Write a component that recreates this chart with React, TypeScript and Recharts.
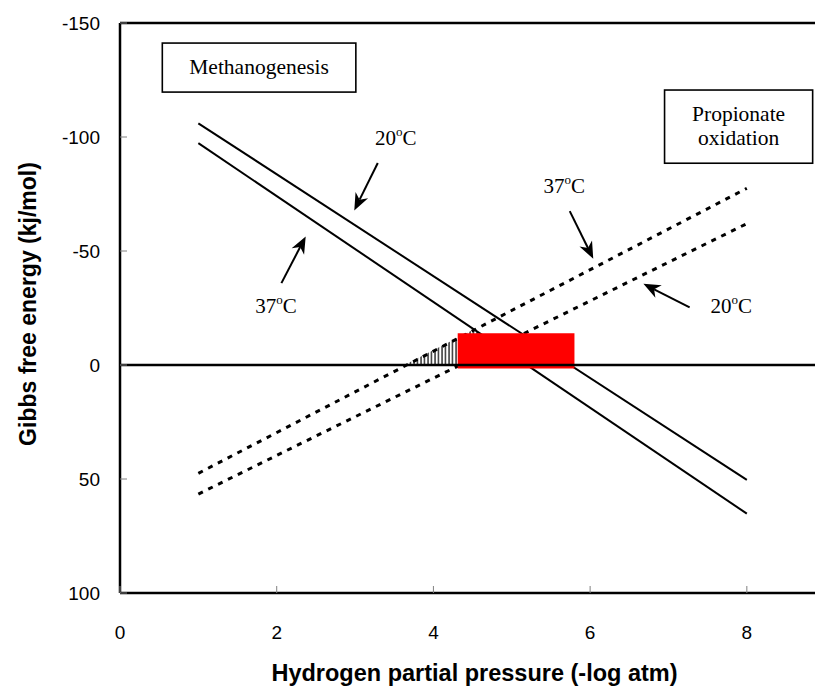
import React from 'react';
import {
  ComposedChart,
  Line,
  Area,
  XAxis,
  YAxis,
  ReferenceLine,
  ReferenceArea,
  ReferenceDot,
} from 'recharts';

// x positions (-log atm) where the drawn lines start and end
const lineX = [1, 8];
// Gibbs free energy (kJ/mol) at those x positions
const meth20 = [-106, 50.4];
const meth37 = [-97.3, 65.2];
const prop37 = [47.5, -77.5];
const prop20 = [56.6, -62];

// thermodynamic window (hatched)
const windowX = [3.63, 4.52, 5.19];
const windowY = [0, -15.7, 0];

// red box
const boxX = [4.31, 5.8];
const boxY = [-13.9, 1.5];

const xTicks = [0, 2, 4, 6, 8];
const yTicks = [-150, -100, -50, 0, 50, 100];

// annotation labels: [x, y, number]
const tempLabels: [number, number, string][] = [
  [3.52, -99.7, '20'],
  [1.99, -25.7, '37'],
  [5.67, -78.5, '37'],
  [7.8, -25.7, '20'],
];

// arrows: [x from, y from, x tip, y tip]
const arrows: [number, number, number, number][] = [
  [3.29, -88.6, 2.99, -67.8],
  [2.06, -35.9, 2.37, -56.4],
  [5.74, -67.5, 6.04, -46.6],
  [7.27, -25.3, 6.68, -35.6],
];

const toPoints = (xs: number[], ys: number[]) => xs.map((x, i) => ({ x, y: ys[i] }));

const SANS = '"Liberation Sans", Arial, sans-serif';
const SERIF = '"Liberation Serif", "Times New Roman", serif';

const XTick = ({ x, y, payload }: any) => (
  <g>
    <line x1={x} y1={y} x2={x} y2={y - 7} stroke="#808080" strokeWidth={1} />
    <text x={x} y={y + 46} textAnchor="middle" fontSize={19} fontFamily={SANS} fill="#000">
      {payload.value}
    </text>
  </g>
);

const YTick = ({ x, y, payload }: any) => (
  <g>
    <line x1={x} y1={y} x2={x + 7} y2={y} stroke="#808080" strokeWidth={1} />
    <text x={x - 20} y={y} dy="0.35em" textAnchor="end" fontSize={19} fontFamily={SANS} fill="#000">
      {payload.value}
    </text>
  </g>
);

const XTitle = ({ viewBox }: any) => (
  <text
    x={viewBox.x + viewBox.width / 2 + 7}
    y={viewBox.y + viewBox.height - 7}
    textAnchor="middle"
    fontSize={23.5}
    fontWeight="bold"
    fontFamily={SANS}
    fill="#000"
  >
    Hydrogen partial pressure (-log atm)
  </text>
);

const YTitle = ({ viewBox }: any) => {
  const cx = viewBox.x + 28;
  const cy = viewBox.y + viewBox.height / 2 - 4;
  return (
    <text
      x={cx}
      y={cy}
      dy="0.35em"
      transform={`rotate(-90 ${cx} ${cy})`}
      textAnchor="middle"
      fontSize={23}
      fontWeight="bold"
      fontFamily={SANS}
      fill="#000"
    >
      Gibbs free energy (kj/mol)
    </text>
  );
};

const makeBox = (lines: string[]) => (props: any) => {
  const { x, y, width, height } = props;
  const cx = x + width / 2;
  const cy = y + height / 2;
  const lh = 24;
  const start = cy - ((lines.length - 1) * lh) / 2;
  return (
    <g>
      <rect x={x} y={y} width={width} height={height} fill="#fff" stroke="#000" strokeWidth={1.6} />
      {lines.map((t, i) => (
        <text
          key={t}
          x={cx}
          y={start + i * lh}
          dy="0.3em"
          textAnchor="middle"
          fontSize={21.5}
          fontFamily={SERIF}
          fill="#000"
        >
          {t}
        </text>
      ))}
    </g>
  );
};

const makeTemp = (num: string) => (props: any) => {
  const { cx, cy } = props;
  return (
    <text x={cx} y={cy} dy={7} textAnchor="middle" fontSize={21} fontFamily={SERIF} fill="#000">
      {num}
      <tspan dy={-9} fontSize={13}>o</tspan>
      <tspan dy={9}>C</tspan>
    </text>
  );
};

const ArrowShape = (props: any) => {
  const { x1, y1, x2, y2 } = props;
  const dx = x2 - x1;
  const dy = y2 - y1;
  const len = Math.sqrt(dx * dx + dy * dy) || 1;
  const ux = dx / len;
  const uy = dy / len;
  const hl = 17;
  const hw = 7;
  const bx = x2 - ux * hl;
  const by = y2 - uy * hl;
  const mx = x2 - ux * (hl - 5);
  const my = y2 - uy * (hl - 5);
  return (
    <g>
      <line x1={x1} y1={y1} x2={mx} y2={my} stroke="#000" strokeWidth={2} />
      <polygon
        points={`${x2},${y2} ${bx - uy * hw},${by + ux * hw} ${mx},${my} ${bx + uy * hw},${by - ux * hw}`}
        fill="#000"
      />
    </g>
  );
};

export default function App() {
  return (
    <div style={{ position: 'absolute', left: 0, top: 0, background: '#fff' }}>
      <ComposedChart width={815} height={688} margin={{ top: 23, right: 0, bottom: 0, left: 0 }}>
        <defs>
          <pattern id="hatch" width="3.5" height="10" patternUnits="userSpaceOnUse">
            <line x1="1" y1="0" x2="1" y2="10" stroke="#000" strokeWidth={1.2} />
          </pattern>
        </defs>
        <XAxis
          type="number"
          dataKey="x"
          domain={[0, 8.87]}
          ticks={xTicks}
          allowDataOverflow
          height={95}
          tickSize={0}
          tickMargin={0}
          tickLine={false}
          tick={<XTick />}
          axisLine={{ stroke: '#000', strokeWidth: 2.5 }}
          label={{ content: XTitle }}
        />
        <YAxis
          type="number"
          domain={[-150, 100]}
          ticks={yTicks}
          reversed
          allowDataOverflow
          width={120}
          tickSize={0}
          tickMargin={0}
          tickLine={false}
          tick={<YTick />}
          axisLine={{ stroke: '#000', strokeWidth: 2.5 }}
          label={{ content: YTitle }}
        />
        <ReferenceLine y={-150} stroke="#000" strokeWidth={2.5} />

        <Line data={toPoints(lineX, meth20)} dataKey="y" type="linear" stroke="#000" strokeWidth={2} dot={false} isAnimationActive={false} />
        <Line data={toPoints(lineX, meth37)} dataKey="y" type="linear" stroke="#000" strokeWidth={2} dot={false} isAnimationActive={false} />
        <Line data={toPoints(lineX, prop37)} dataKey="y" type="linear" stroke="#000" strokeWidth={3} strokeDasharray="5 6" dot={false} isAnimationActive={false} />
        <Line data={toPoints(lineX, prop20)} dataKey="y" type="linear" stroke="#000" strokeWidth={3} strokeDasharray="5 6" dot={false} isAnimationActive={false} />

        <Area
          data={toPoints(windowX, windowY)}
          dataKey="y"
          type="linear"
          baseValue={0}
          fill="url(#hatch)"
          fillOpacity={1}
          stroke="none"
          isAnimationActive={false}
          zIndex={420}
        />

        <ReferenceArea
          x1={boxX[0]}
          x2={boxX[1]}
          y1={boxY[0]}
          y2={boxY[1]}
          fill="#ff0000"
          fillOpacity={1}
          stroke="none"
          ifOverflow="visible"
          zIndex={450}
        />
        <ReferenceLine y={0} stroke="#000" strokeWidth={2.5} zIndex={460} />

        <ReferenceArea x1={0.54} x2={3.01} y1={-141.2} y2={-119.7} ifOverflow="visible" shape={makeBox(['Methanogenesis'])} zIndex={470} />
        <ReferenceArea x1={6.95} x2={8.84} y1={-120.6} y2={-88.5} ifOverflow="visible" shape={makeBox(['Propionate', 'oxidation'])} zIndex={470} />

        {tempLabels.map(([x, y, n], i) => (
          <ReferenceDot key={'t' + i} x={x} y={y} r={0} ifOverflow="visible" shape={makeTemp(n)} zIndex={480} />
        ))}
        {arrows.map(([xa, ya, xb, yb], i) => (
          <ReferenceLine
            key={'a' + i}
            segment={[{ x: xa, y: ya }, { x: xb, y: yb }]}
            ifOverflow="visible"
            shape={ArrowShape}
            zIndex={480}
          />
        ))}
      </ComposedChart>
    </div>
  );
}
